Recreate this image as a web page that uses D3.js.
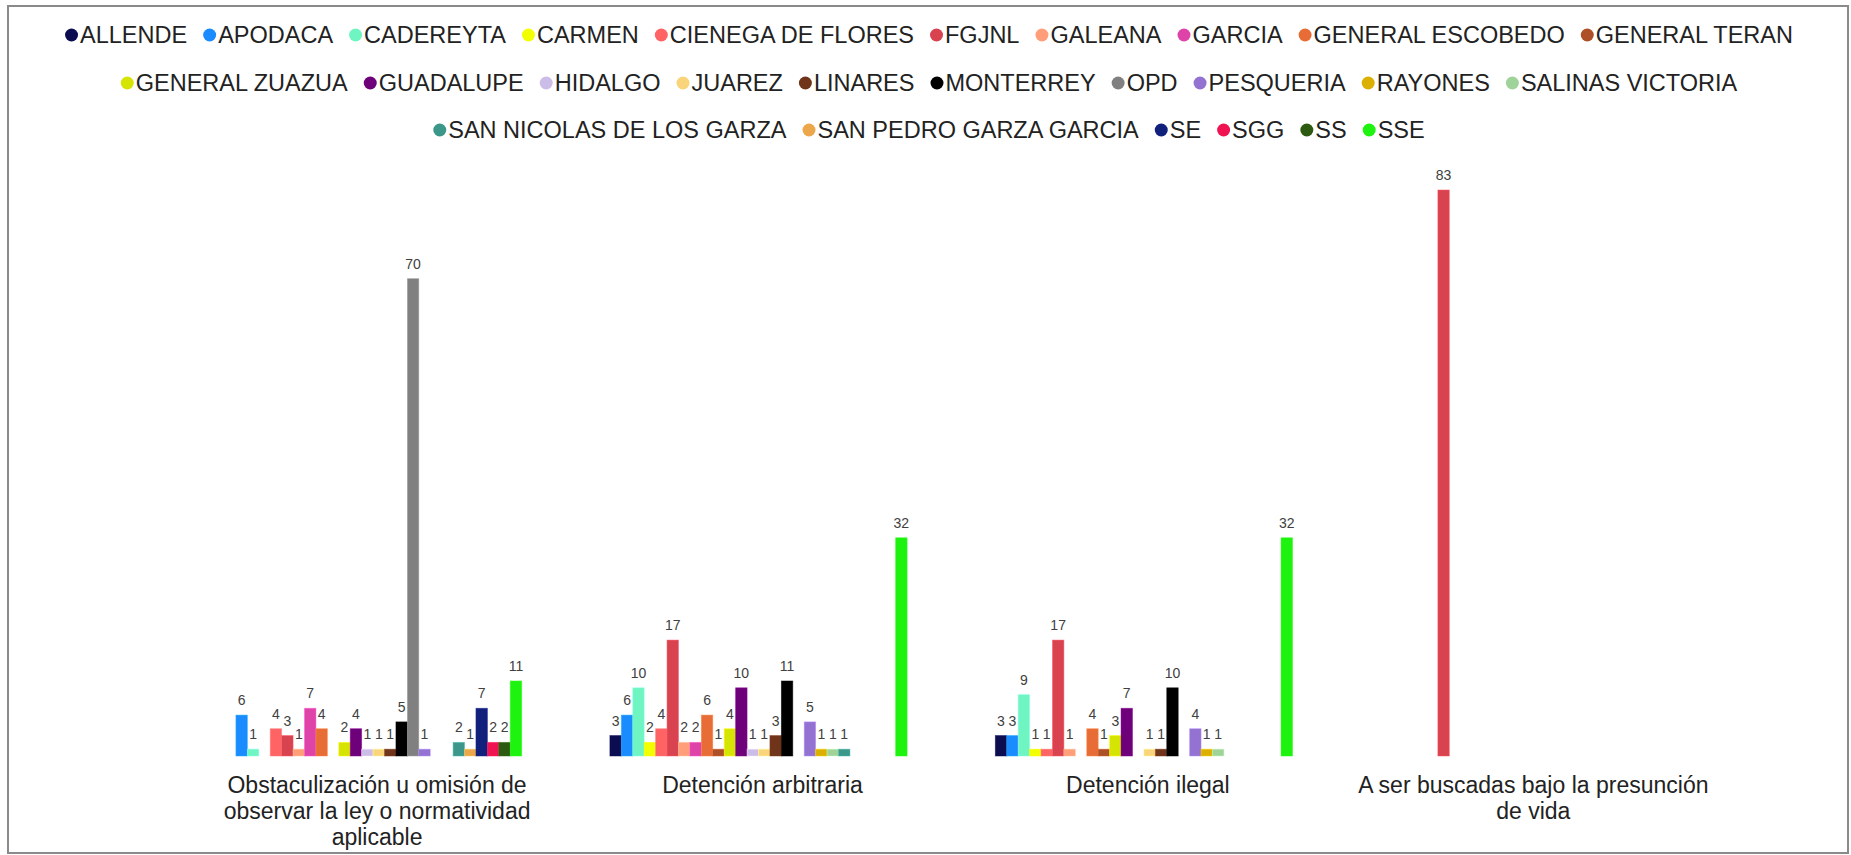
<!DOCTYPE html>
<html>
<head>
<meta charset="utf-8">
<script src="https://cdn.jsdelivr.net/npm/d3@7"></script>
<style>
  html, body { margin: 0; padding: 0; background: #fff; }
  svg { display: block; }
  text { font-family: "Liberation Sans", Arial, sans-serif; }
</style>
</head>
<body>
<svg id="chart" width="1851" height="855"></svg>
<script>
// ---- Data ----
const categories = [
  "Obstaculización u omisión de observar la ley o normatividad aplicable",
  "Detención arbitraria",
  "Detención ilegal",
  "A ser buscadas bajo la presunción de vida"
];
const seriesNames = [
  "ALLENDE", "APODACA", "CADEREYTA", "CARMEN", "CIENEGA DE FLORES", "FGJNL",
  "GALEANA", "GARCIA", "GENERAL ESCOBEDO", "GENERAL TERAN", "GENERAL ZUAZUA",
  "GUADALUPE", "HIDALGO", "JUAREZ", "LINARES", "MONTERREY", "OPD", "PESQUERIA",
  "RAYONES", "SALINAS VICTORIA", "SAN NICOLAS DE LOS GARZA",
  "SAN PEDRO GARZA GARCIA", "SE", "SGG", "SS", "SSE"
];
const seriesColors = [
  "#0c0c50", "#1a8cff", "#6ef5c2", "#f2ff00", "#ff6363", "#d8434f",
  "#ff9e78", "#de44a8", "#e86c36", "#ad4f27", "#d6e404",
  "#6e0079", "#cbbde8", "#f9d47a", "#6f3419", "#000000", "#808080", "#9372d2",
  "#dbb000", "#9fd39a", "#3b978a",
  "#eba74a", "#11207b", "#ef1451", "#2b5a10", "#1ef20f"
];
// values per category (order of seriesNames)
const obstaculizacion = [0, 6, 1, 0, 4, 3, 1, 7, 4, 0, 2, 4, 1, 1, 1, 5, 70, 1, 0, 0, 2, 1, 7, 2, 2, 11];
const detencionArbitraria = [3, 6, 10, 2, 4, 17, 2, 2, 6, 1, 4, 10, 1, 1, 3, 11, 0, 5, 1, 1, 1, 0, 0, 0, 0, 32];
const detencionIlegal = [3, 3, 9, 1, 1, 17, 1, 0, 4, 1, 3, 7, 0, 1, 1, 10, 0, 4, 1, 1, 0, 0, 0, 0, 0, 32];
const buscadasPresuncionVida = [0, 0, 0, 0, 0, 83, 0, 0, 0, 0, 0, 0, 0, 0, 0, 0, 0, 0, 0, 0, 0, 0, 0, 0, 0, 0];
const valuesByCategory = [obstaculizacion, detencionArbitraria, detencionIlegal, buscadasPresuncionVida];

// ---- Layout ----
const svg = d3.select("#chart");
const plotLeft = 180.4, plotRight = 1722, baseY = 756, topY = 190;

// frame
svg.append("rect")
  .attr("x", 8).attr("y", 6).attr("width", 1840).attr("height", 847)
  .attr("fill", "#fff").attr("stroke", "#8a8a8a").attr("stroke-width", 2);

const x0 = d3.scaleBand().domain(categories).range([plotLeft, plotRight])
  .paddingInner(0.2289).paddingOuter(0.1144);
const x1 = d3.scaleBand().domain(seriesNames).range([0, x0.bandwidth()]).padding(0);
const yMax = d3.max(valuesByCategory.flat());
const y = d3.scaleLinear().domain([0, yMax]).range([baseY, topY]);
const color = d3.scaleOrdinal().domain(seriesNames).range(seriesColors);

// bars
const groups = svg.append("g").selectAll("g")
  .data(categories.map((c, i) => ({ cat: c, vals: valuesByCategory[i] })))
  .join("g")
  .attr("transform", d => `translate(${x0(d.cat)},0)`);

const cells = groups.selectAll("g.cell")
  .data(d => d.vals.map((v, j) => ({ name: seriesNames[j], v })).filter(e => e.v > 0))
  .join("g").attr("class", "cell");

cells.append("rect")
  .attr("x", d => x1(d.name))
  .attr("y", d => y(d.v))
  .attr("width", x1.bandwidth())
  .attr("height", d => baseY - y(d.v))
  .attr("fill", d => color(d.name))
  .attr("stroke", d => d3.color(color(d.name)).brighter(0.6))
  .attr("stroke-opacity", 0.6)
  .attr("stroke-width", 0.8);

cells.append("text")
  .attr("x", d => x1(d.name) + x1.bandwidth() / 2)
  .attr("y", d => y(d.v) - 10)
  .attr("text-anchor", "middle")
  .attr("font-size", 14)
  .attr("fill", "#404040")
  .text(d => d.v);

// category axis labels (wrapped)
const axisG = svg.append("g");
const lineH = 26, wrapW = 380, labelShift = 4;
categories.forEach(cat => {
  const cx = x0(cat) + x0.bandwidth() / 2 + labelShift;
  const t = axisG.append("text")
    .attr("x", cx)
    .attr("y", 793)
    .attr("text-anchor", "middle")
    .attr("font-size", 23)
    .attr("fill", "#222");
  const words = cat.split(" ");
  let line = [];
  let tspan = t.append("tspan").attr("x", cx).attr("dy", 0);
  words.forEach(w => {
    line.push(w);
    tspan.text(line.join(" "));
    if (tspan.node().getComputedTextLength() > wrapW && line.length > 1) {
      line.pop();
      tspan.text(line.join(" "));
      line = [w];
      tspan = t.append("tspan").attr("x", cx).attr("dy", lineH).text(w);
    }
  });
});

// legend
const legendG = svg.append("g");
const legFont = 23.5, dotR = 6.5, dotGap = 2, itemGap = 16, maxRowW = 1780;
const rowYs = [35, 83, 130];
const items = seriesNames.map(n => {
  const tmp = legendG.append("text").attr("font-size", legFont).text(n);
  const w = tmp.node().getComputedTextLength();
  tmp.remove();
  return { name: n, w: dotR * 2 + dotGap + w };
});
const rows = [[]];
let curW = 0;
items.forEach(it => {
  const add = (rows[rows.length - 1].length ? itemGap : 0) + it.w;
  if (curW + add > maxRowW && rows[rows.length - 1].length) {
    rows.push([it]); curW = it.w;
  } else {
    rows[rows.length - 1].push(it); curW += add;
  }
});
const centerX = 929;
rows.forEach((row, ri) => {
  const total = d3.sum(row, r => r.w) + itemGap * (row.length - 1);
  let cx = centerX - total / 2;
  const cy = rowYs[ri];
  row.forEach(it => {
    legendG.append("circle")
      .attr("cx", cx + dotR).attr("cy", cy).attr("r", dotR)
      .attr("fill", color(it.name));
    legendG.append("text")
      .attr("x", cx + dotR * 2 + dotGap).attr("y", cy + 8)
      .attr("font-size", legFont).attr("fill", "#222")
      .text(it.name);
    cx += it.w + itemGap;
  });
});
</script>
</body>
</html>
